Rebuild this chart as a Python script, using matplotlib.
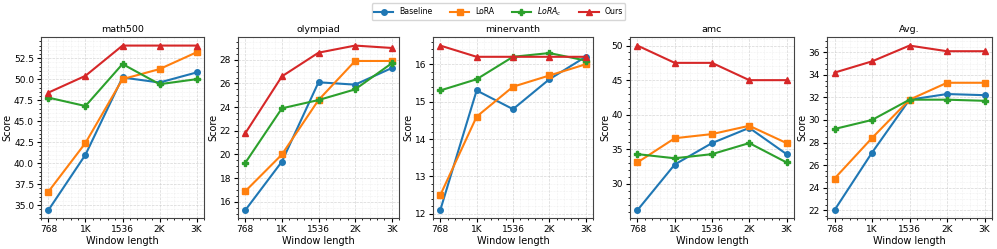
import matplotlib
matplotlib.use("Agg")
import matplotlib.pyplot as plt
from matplotlib.ticker import AutoMinorLocator

# window lengths on the x axis
windows = ["768", "1K", "1536", "2K", "3K"]
methods = ["Baseline", "LoRA", r"$LoRA_c$", "Ours"]

math500 = [[34.4, 41.0, 50.2, 49.6, 50.8],
           [36.6, 42.4, 50.0, 51.2, 53.2],
           [47.8, 46.8, 51.8, 49.4, 50.0],
           [48.4, 50.4, 54.0, 54.0, 54.0]]
olympiad = [[15.3, 19.4, 26.1, 25.9, 27.3],
            [16.9, 20.0, 24.6, 27.9, 27.9],
            [19.3, 23.9, 24.6, 25.5, 27.7],
            [21.8, 26.6, 28.6, 29.2, 29.0]]
minervanth = [[12.1, 15.3, 14.8, 15.6, 16.2],
              [12.5, 14.6, 15.4, 15.7, 16.0],
              [15.3, 15.6, 16.2, 16.3, 16.1],
              [16.5, 16.2, 16.2, 16.2, 16.2]]
amc = [[26.2, 32.8, 35.9, 38.1, 34.3],
       [33.1, 36.6, 37.2, 38.4, 35.9],
       [34.3, 33.7, 34.3, 35.9, 33.1],
       [50.0, 47.5, 47.5, 45.0, 45.0]]
avg = [[22.0, 27.1, 31.8, 32.3, 32.2],
       [24.8, 28.4, 31.8, 33.3, 33.3],
       [29.2, 30.0, 31.8, 31.8, 31.7],
       [34.2, 35.2, 36.6, 36.1, 36.1]]

panels = [("math500", math500), ("olympiad", olympiad), ("minervanth", minervanth),
          ("amc", amc), ("Avg.", avg)]
colors = ["#1f77b4", "#ff7f0e", "#2ca02c", "#d62728"]
markers = ["o", "s", "P", "^"]

plt.rcParams["font.size"] = 6.8

fig, axes = plt.subplots(1, 5, figsize=(9.97, 2.49), dpi=100)
boxes = [(41, 163), (238, 161), (433, 160), (630, 164), (827, 165)]
for ax, (l, w) in zip(axes, boxes):
    ax.set_position([l / 997, 0.123, w / 997, 0.727])

x = list(range(len(windows)))
for ax, (name, data) in zip(axes, panels):
    for i in range(4):
        ax.plot(x, data[i], color=colors[i], marker=markers[i], markersize=4,
                linewidth=1.5, label=methods[i])
    ax.set_title(name, fontsize=6.8, pad=4)
    ax.set_xticks(x)
    ax.set_xticklabels(windows)
    ax.set_xlabel("Window length", fontsize=7, labelpad=1)
    ax.set_ylabel("Score", fontsize=7, labelpad=1)
    ax.xaxis.set_minor_locator(AutoMinorLocator())
    ax.yaxis.set_minor_locator(AutoMinorLocator())
    ax.tick_params(which="major", length=3, pad=2, labelsize=6.5)
    ax.tick_params(which="minor", length=1.5)
    ax.grid(which="major", linestyle="--", linewidth=0.5, color="#cccccc", alpha=0.8)
    ax.grid(which="minor", linestyle=":", linewidth=0.4, color="#dddddd", alpha=0.8)
    for s in ax.spines.values():
        s.set_color("#444444")

handles, labels = axes[0].get_legend_handles_labels()
fig.legend(handles, labels, loc="upper center", ncol=4, bbox_to_anchor=(0.5, 1.0),
           fontsize=5.6, frameon=True, handlelength=2.5, columnspacing=2.2,
           borderpad=0.3, handletextpad=0.8, borderaxespad=0.4)

fig.savefig("out.png", dpi=100)
